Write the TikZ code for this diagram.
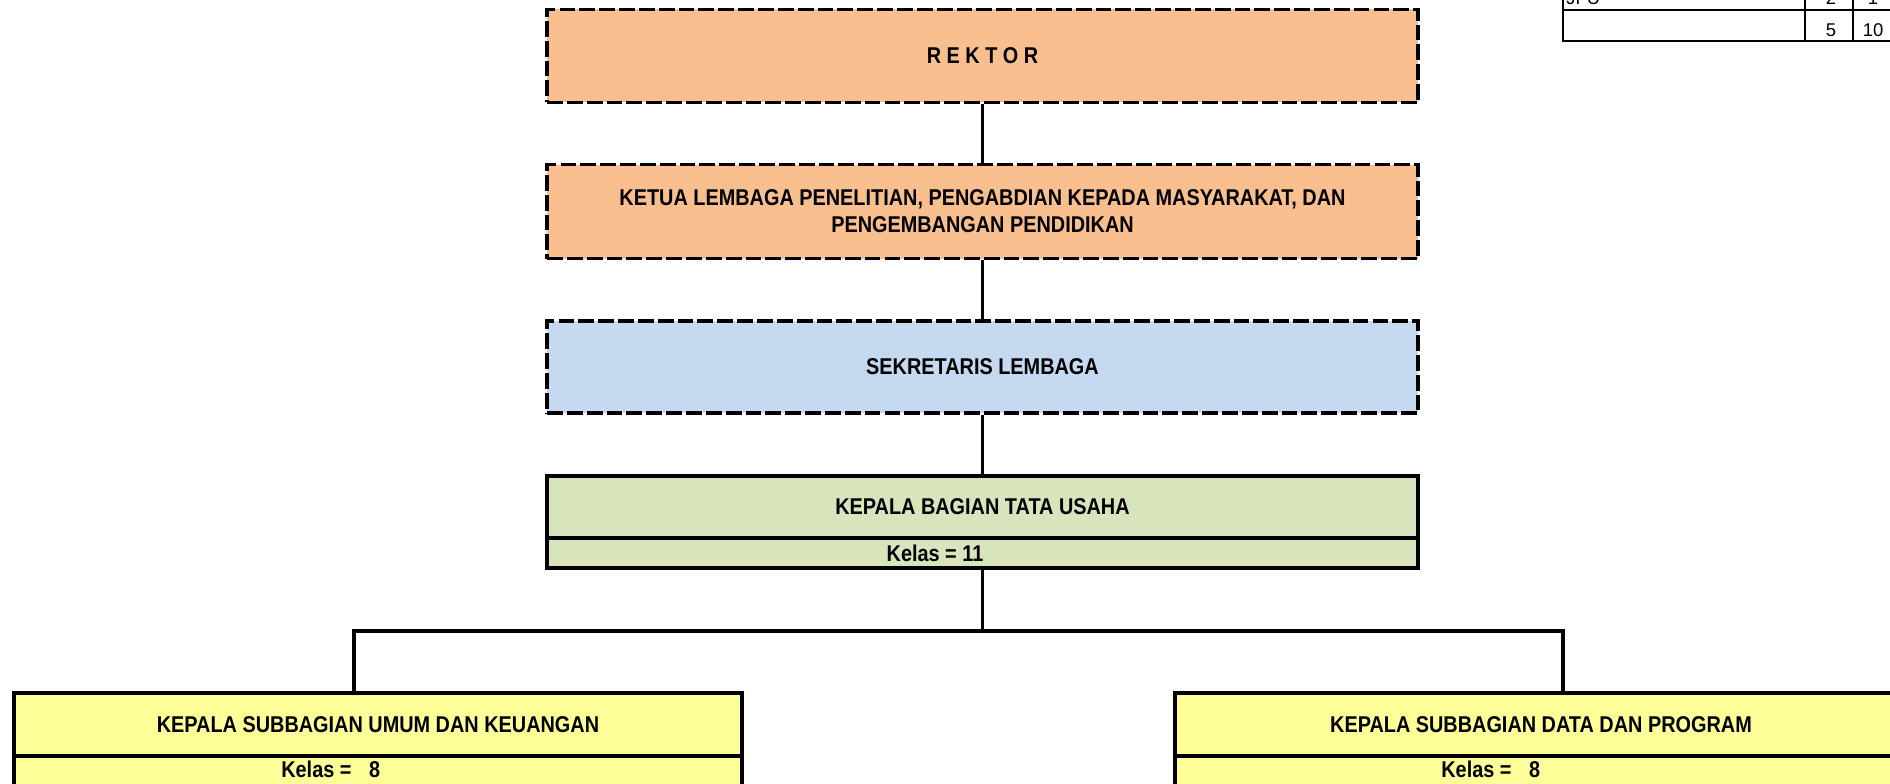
\documentclass[tikz,border=0pt]{standalone}
\usepackage{fontspec}
\setmainfont{Liberation Sans}[FakeStretch=0.87]
\newfontfamily\tabelfont{Liberation Sans}
\def\px{0.02cm}
\definecolor{oranye}{HTML}{FABF8F}
\definecolor{biru}{HTML}{C5D9F1}
\definecolor{hijau}{HTML}{D8E4BC}
\definecolor{kuning}{HTML}{FFFF99}
\tikzset{
  garis/.style={line width=2pt},
  jabatan/.style={draw, line width=2pt, dash pattern=on 9pt off 2.3pt,
    minimum width=871*\px, inner sep=0pt, align=center,
    font=\fontsize{13}{15.5}\selectfont\bfseries},
  kotak/.style={draw, line width=2pt, inner sep=0pt, align=center,
    font=\fontsize{13}{15.5}\selectfont\bfseries},
  teks/.style={inner sep=0pt, font=\fontsize{13}{15.5}\selectfont\bfseries},
  angka/.style={inner sep=0pt, font=\tabelfont\fontsize{10.5}{12}\selectfont},
}

\begin{document}
\begin{tikzpicture}[x=\px,y=-\px]
    \useasboundingbox (0,0) rectangle (1890,784);
    % tabel rekap di pojok kanan atas (terpotong)
    \begin{scope}[line width=1.4pt]
      \draw (1563,-30) rectangle (1893,41);
      \draw (1563,10) -- (1893,10);
      \draw (1805,-30) -- (1805,41);
      \draw (1853,-30) -- (1853,41);
    \end{scope}
    \node[angka, anchor=base west] (jfu) at (1566,5) {JFU};
    \node[angka, anchor=base] (jfu1) at (1831,5) {2};
    \node[angka, anchor=base] (jfu2) at (1873,5) {1};
    \node[angka, anchor=base] (jml1) at (1831,36.5) {5};
    \node[angka, anchor=base] (jml2) at (1873,36.5) {10};
    % pimpinan
    \node[jabatan, fill=oranye, minimum height=93*\px] (rektor) at (982.5,56) {R E K T O R};
    \node[jabatan, fill=oranye, minimum height=94*\px] (ketua) at (982.5,211.5)
      {KETUA LEMBAGA PENELITIAN, PENGABDIAN KEPADA MASYARAKAT, DAN\\PENGEMBANGAN PENDIDIKAN};
    \node[jabatan, fill=biru, minimum height=92*\px] (sekretaris) at (982.5,367) {SEKRETARIS LEMBAGA};
    % tata usaha
    \node[kotak, fill=hijau, minimum width=871*\px, minimum height=62*\px] (kabag) at (982.5,507) {KEPALA BAGIAN TATA USAHA};
    \node[kotak, fill=hijau, minimum width=871*\px, minimum height=30*\px] (kabagkelas) at (982.5,553) {};
    \node[teks] (kelas11) at (935,553) {Kelas = 11};
    % subbagian
    \node[kotak, fill=kuning, minimum width=728*\px, minimum height=63*\px] (umum) at (378,724.5) {KEPALA SUBBAGIAN UMUM DAN KEUANGAN};
    \node[kotak, fill=kuning, minimum width=728*\px, minimum height=64*\px] (umumkelas) at (378,788) {};
    \node[teks, anchor=west] (kelasumum) at (281,769) {Kelas =\hspace{10pt}8};
    \node[kotak, fill=kuning, minimum width=732*\px, minimum height=63*\px] (data) at (1541,724.5) {KEPALA SUBBAGIAN DATA DAN PROGRAM};
    \node[kotak, fill=kuning, minimum width=732*\px, minimum height=64*\px] (datakelas) at (1541,788) {};
    \node[teks, anchor=west] (kelasdata) at (1441,769) {Kelas =\hspace{10pt}8};
    % garis hubung
    \draw[garis] (rektor) -- (ketua);
    \draw[garis] (ketua) -- (sekretaris);
    \draw[garis] (sekretaris) -- (kabag);
    \coordinate (cabang) at (982.5,631);
    \coordinate (cabangkiri) at (354,631);
    \coordinate (cabangkanan) at (1563,631);
    \draw[garis] (kabagkelas.south) -- (cabang);
    \draw[garis] (cabangkiri |- umum.north) -- (cabangkiri) -- (cabangkanan) -- (cabangkanan |- data.north);
\end{tikzpicture}
\end{document}
